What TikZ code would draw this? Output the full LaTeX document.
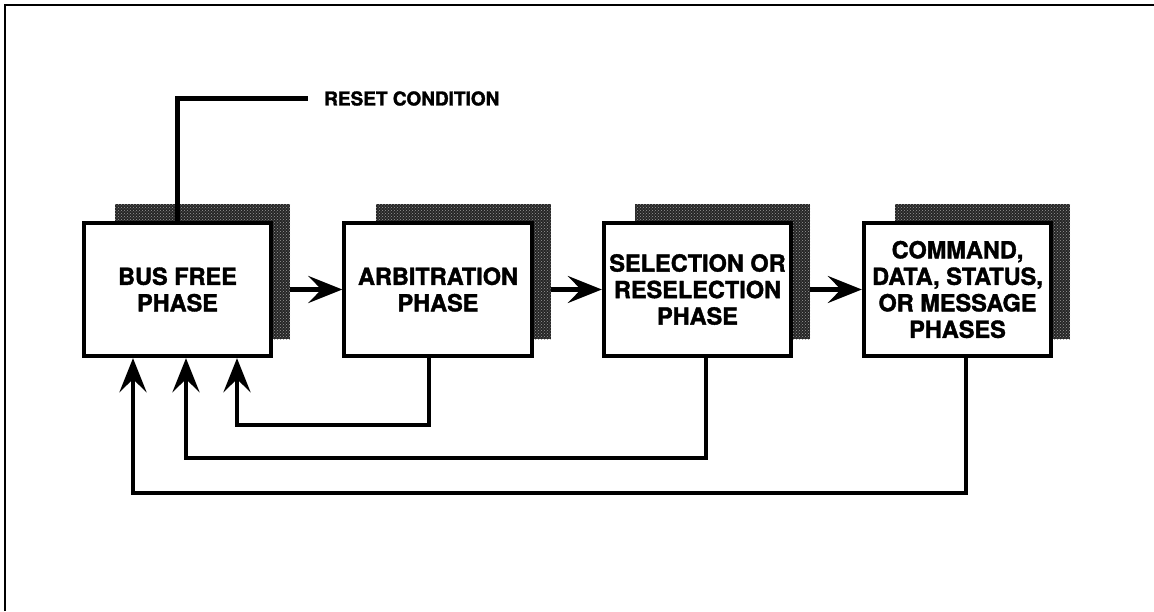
\documentclass[tikz,border=0pt]{standalone}
\usepackage{fontspec}
\setmainfont{TeX Gyre Heros}
\newfontfamily\heavyfont{TeX Gyre Heros Bold}[FakeBold=1.6]
\usetikzlibrary{arrows.meta,patterns}
\begin{document}
\begin{tikzpicture}[x=1pt,y=-1pt,
  phase/.style={draw, line width=3.8pt, fill=white, minimum width=187.5pt, minimum height=133.5pt, align=center, inner sep=0pt, font=\heavyfont\fontsize{23.5}{26.5}\selectfont},
  shadowbox/.style={fill=black!85, minimum width=175pt, minimum height=135pt, inner sep=0pt, postaction={pattern=crosshatch dots, pattern color=black!40}},
  conn/.style={line width=4.5pt},
  arr/.style={conn, -{Stealth[length=34pt,width=27pt,inset=13pt]}},
  frame/.style={line width=2pt}]
\useasboundingbox (0,0) rectangle (1154,611);
\draw[frame] (5,611) -- (5,5) -- (1154,5);
% shadows
\node[shadowbox] (s1) at (202.5,271.5) {};
\node[shadowbox] (s2) at (463,271.5) {};
\node[shadowbox] (s3) at (722.5,271.5) {};
\node[shadowbox] (s4) at (982.5,271.5) {};
% boxes
\node[phase] (b1) at (177.5,289.5) {BUS FREE\\PHASE};
\node[phase] (b2) at (438,289.5) {ARBITRATION\\PHASE};
\node[phase] (b3) at (697.5,289.5) {SELECTION OR\\RESELECTION\\PHASE};
\node[phase] (b4) at (957.5,289.5) {COMMAND,\\DATA, STATUS,\\OR MESSAGE\\PHASES};
% reset
\node[anchor=west, inner sep=0pt, font=\heavyfont\fontsize{19}{22}\selectfont] (reset) at (324,98.5) {RESET CONDITION};
\draw[conn] (b1.north) |- ([xshift=-16pt]reset.west);
% forward arrows
\draw[arr] (s1.east |- b1.center) -- (b2.west);
\draw[arr] (s2.east |- b2.center) -- (b3.west);
\draw[arr] (s3.east |- b3.center) -- (b4.west);
% return loops
\draw[arr] ([xshift=-9pt]b2.south) -- ++(0,67) -| ([xshift=59.5pt]b1.south);
\draw[arr] ([xshift=8.5pt]b3.south) -- ++(0,100) -| ([xshift=8.5pt]b1.south);
\draw[arr] ([xshift=8.5pt]b4.south) -- ++(0,135) -| ([xshift=-44.5pt]b1.south);
\end{tikzpicture}
\end{document}
